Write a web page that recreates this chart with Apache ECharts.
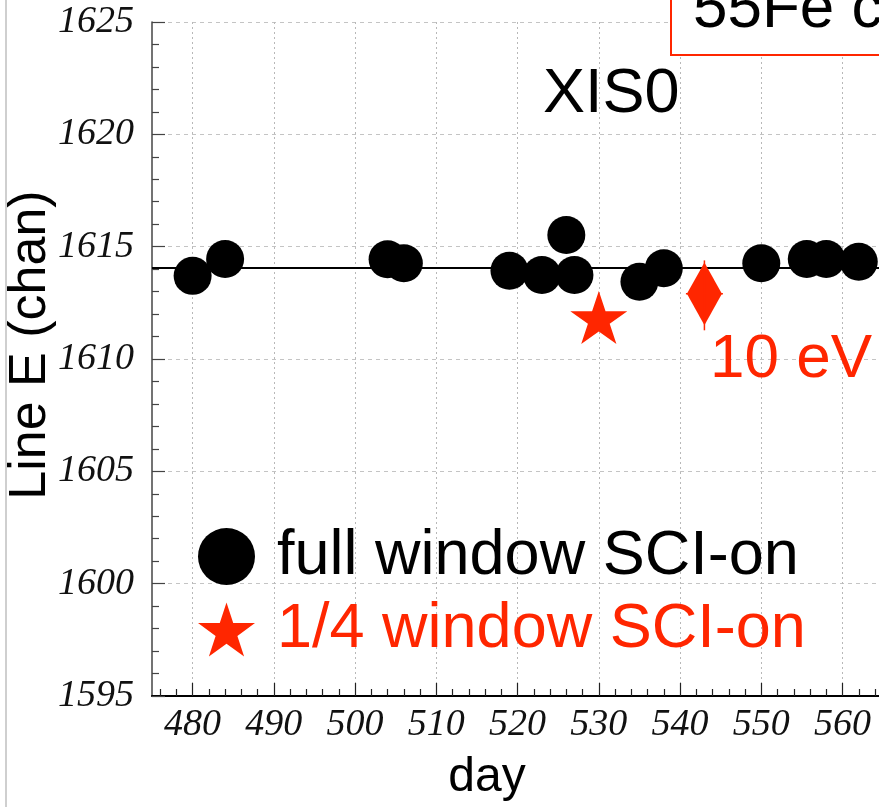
<!DOCTYPE html>
<html>
<head>
<meta charset="utf-8">
<title>XIS0 55Fe line energy</title>
<script src="https://cdn.jsdelivr.net/npm/echarts@6/dist/echarts.min.js"></script>
<style>
  html, body { margin: 0; padding: 0; background: #fff; overflow: hidden; width: 879px; height: 807px; }
  #chart { width: 1005px; height: 807px; }
</style>
</head>
<body>
<div id="chart"></div>
<script>
// Line energy (channel) of the 55Fe calibration line versus day
const fullDays = [480, 484, 504, 506, 519, 523, 526, 527, 535, 538, 550, 555.6, 558, 562];
const fullVals = [1613.70, 1614.45, 1614.44, 1614.26, 1613.93, 1613.74, 1615.52, 1613.74, 1613.44, 1614.04, 1614.26, 1614.45, 1614.45, 1614.33];

const quarterDays = [530];
const quarterVals = [1611.85];

// 10 eV scale marker: day, centre, low, high (chan)
const scaleDay = [543];
const scaleMid = [1612.9];
const scaleLow = [1611.5];
const scaleHigh = [1614.3];

const meanLevel = 1614.05;

const xTicks = [480, 490, 500, 510, 520, 530, 540, 550, 560, 570, 580];
const yTicks = [1595, 1600, 1605, 1610, 1615, 1620, 1625];

const fullName = 'full window SCI-on';
const quarterName = '1/4 window SCI-on';

const RED = '#ff2600';
const X_MIN = 475, X_MAX = 580;

// small ticks every 2 days between the labelled ones
const xMinorTicks = [];
for (let d = 476; d <= X_MAX; d += 2) {
  if (d % 10 !== 0) xMinorTicks.push(d);
}

// five-pointed star outline as a symbol path
function starPath() {
  const pts = [];
  for (let i = 0; i < 10; i++) {
    const r = i % 2 === 0 ? 100 : 38.2;
    const a = -Math.PI / 2 + i * Math.PI / 5;
    pts.push((r * Math.cos(a)).toFixed(2) + ' ' + (r * Math.sin(a)).toFixed(2));
  }
  return 'path://M' + pts.join(' L') + ' Z';
}
const STAR = starPath();

const chart = echarts.init(document.getElementById('chart'), null, { renderer: 'canvas' });

const serifLabel = {
  fontFamily: 'Liberation Serif',
  fontStyle: 'italic',
  fontSize: 38,
  color: '#111'
};

const option = {
  backgroundColor: '#ffffff',
  animation: false,
  grid: { left: 152, top: 22, bottom: 111, right: 0, outerBoundsMode: 'none', containLabel: false },
  xAxis: [
    {
      type: 'value',
      min: X_MIN,
      max: X_MAX,
      interval: 5,
      axisLine: { show: true, onZero: false, lineStyle: { color: '#000', width: 2 } },
      axisTick: { show: true, inside: true, length: 13, lineStyle: { color: '#222', width: 1.2 },
        customValues: xTicks },
      axisLabel: Object.assign({ margin: 10, customValues: xTicks, formatter: v => String(v) }, serifLabel),
      splitLine: { show: true, lineStyle: { color: '#b8b8b8', type: [2, 3], width: 1 } }
    },
    {
      type: 'value',
      min: X_MIN,
      max: X_MAX,
      interval: 5,
      position: 'bottom',
      axisLine: { show: false },
      axisTick: { show: true, inside: true, length: 7, lineStyle: { color: '#222', width: 1.2 },
        customValues: xMinorTicks },
      axisLabel: { show: false },
      splitLine: { show: false }
    }
  ],
  yAxis: {
    type: 'value',
    min: 1595,
    max: 1625,
    interval: 5,
    axisLine: { show: true, onZero: false, lineStyle: { color: '#444', width: 1.5 } },
    axisTick: { show: true, inside: true, length: 13, lineStyle: { color: '#444', width: 1.2 } },
    minorTick: { show: true, splitNumber: 5, length: 7, lineStyle: { color: '#444', width: 1.2 } },
    axisLabel: Object.assign({ margin: 18, customValues: yTicks, formatter: v => String(v) }, serifLabel),
    splitLine: { show: true, lineStyle: { color: '#c4c4c4', type: [4, 4], width: 1 } }
  },
  legend: {
    orient: 'vertical',
    left: 193,
    top: 520,
    itemWidth: 57,
    itemHeight: 57,
    itemGap: 10,
    selectedMode: false,
    textStyle: { fontFamily: 'Liberation Sans', fontSize: 63, color: '#000', padding: [0, 0, 0, 17] },
    data: [
      { name: fullName, icon: 'circle', itemStyle: { color: '#000' }, textStyle: { color: '#000' } },
      { name: quarterName, icon: STAR, itemStyle: { color: RED }, textStyle: { color: RED } }
    ]
  },
  series: [
    {
      // mean level
      type: 'line',
      data: [[X_MIN, meanLevel], [X_MAX, meanLevel]],
      symbol: 'none',
      silent: true,
      lineStyle: { color: '#000', width: 2 },
      z: 3
    },
    {
      name: fullName,
      type: 'scatter',
      symbol: 'circle',
      symbolSize: 38,
      itemStyle: { color: '#000', opacity: 1 },
      data: fullDays.map((d, i) => [d, fullVals[i]]),
      z: 5
    },
    {
      name: quarterName,
      type: 'scatter',
      symbol: STAR,
      symbolSize: [57, 53],
      itemStyle: { color: RED, opacity: 1 },
      data: quarterDays.map((d, i) => [d, quarterVals[i]]),
      z: 5
    },
    {
      // 10 eV scale marker
      type: 'custom',
      data: scaleDay.map((d, i) => [d, scaleMid[i], scaleLow[i], scaleHigh[i]]),
      renderItem: function (params, api) {
        const c = api.coord([api.value(0), api.value(1)]);
        const lo = api.coord([api.value(0), api.value(2)]);
        const hi = api.coord([api.value(0), api.value(3)]);
        const hw = 17.5;
        return {
          type: 'group',
          children: [
            {
              type: 'polygon',
              shape: { points: [[c[0], hi[1]], [c[0] + hw, c[1]], [c[0], lo[1]], [c[0] - hw, c[1]]] },
              style: { fill: RED }
            },
            {
              type: 'line',
              shape: { x1: c[0], y1: hi[1] - 2, x2: c[0], y2: lo[1] + 5 },
              style: { stroke: RED, lineWidth: 1.5 }
            },
            {
              type: 'line',
              shape: { x1: c[0] - hw - 1, y1: c[1], x2: c[0] + hw + 1, y2: c[1] },
              style: { stroke: RED, lineWidth: 1.5 }
            }
          ]
        };
      },
      z: 6
    }
  ],
  graphic: [
    {
      type: 'line',
      shape: { x1: 6, y1: 0, x2: 6, y2: 807 },
      style: { stroke: '#cfcfcf', lineWidth: 2 },
      silent: true
    },
    {
      type: 'rect',
      shape: { x: 671, y: -20, width: 400, height: 75 },
      style: { fill: '#fff', stroke: RED, lineWidth: 2 },
      z: 10
    },
    {
      type: 'text',
      x: 693, y: 10,
      style: { text: '55Fe calibration', font: '62px "Liberation Sans"', fill: '#000', align: 'left', verticalAlign: 'middle' },
      z: 11
    },
    {
      type: 'text',
      x: 543, y: 95,
      style: { text: 'XIS0', font: '63px "Liberation Sans"', fill: '#000', align: 'left', verticalAlign: 'middle' },
      z: 10
    },
    {
      type: 'text',
      x: 710, y: 360,
      style: { text: '10 eV', font: '62px "Liberation Sans"', fill: RED, align: 'left', verticalAlign: 'middle' },
      z: 10
    },
    {
      type: 'text',
      x: 487, y: 778,
      style: { text: 'day', font: '48px "Liberation Sans"', fill: '#000', align: 'center', verticalAlign: 'middle' },
      z: 10
    },
    {
      type: 'text',
      x: 31, y: 345,
      rotation: Math.PI / 2,
      style: { text: 'Line E (chan)', font: '52px "Liberation Sans"', fill: '#000', align: 'center', verticalAlign: 'middle' },
      z: 10
    }
  ]
};

chart.setOption(option);
</script>
</body>
</html>
